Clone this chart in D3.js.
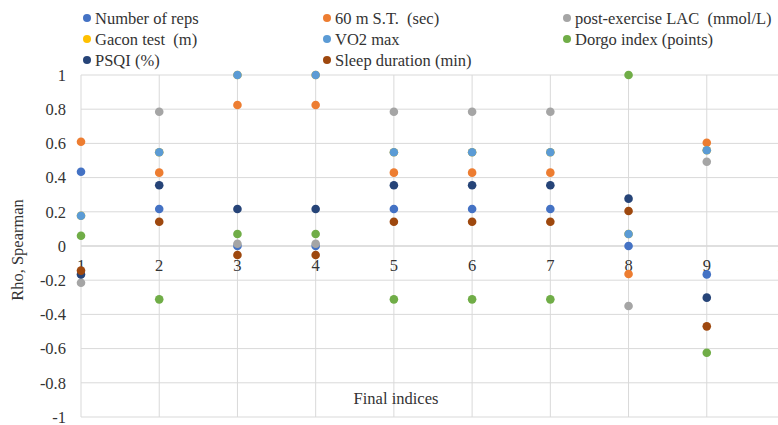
<!DOCTYPE html>
<html><head><meta charset="utf-8">
<script src="https://cdn.jsdelivr.net/npm/d3@7"></script>
<style>
body{margin:0;background:#fff;}
svg text{font-family:"Liberation Serif","Times New Roman","DejaVu Serif",serif;fill:#333;}
</style></head>
<body><svg id="c" width="778" height="425" font-family="Liberation Serif, serif"></svg>
<script>
const categories = [1,2,3,4,5,6,7,8,9];
const seriesNames = ["Number of reps","60 m S.T.  (sec)","post-exercise LAC  (mmol/L)","Gacon test  (m)","VO2 max","Dorgo index (points)","PSQI (%)","Sleep duration (min)"];
const seriesColors = ["#4472C4","#ED7D31","#A5A5A5","#FFC000","#5B9BD5","#70AD47","#264478","#9E480E"];
const repsValues   = [0.434, 0.216, 0.0, 0.0, 0.216, 0.216, 0.216, 0.0, -0.166];
const st60Values   = [0.61, 0.429, 0.825, 0.825, 0.429, 0.429, 0.429, -0.164, 0.604];
const lacValues    = [-0.215, 0.785, 0.013, 0.013, 0.785, 0.785, 0.785, -0.351, 0.493];
const gaconValues  = [0.177, 0.548, 1.0, 1.0, 0.548, 0.548, 0.548, 0.07, 0.56];
const vo2Values    = [0.177, 0.548, 1.0, 1.0, 0.548, 0.548, 0.548, 0.07, 0.56];
const dorgoValues  = [0.06, -0.312, 0.07, 0.07, -0.312, -0.312, -0.312, 1.0, -0.624];
const psqiValues   = [-0.166, 0.355, 0.216, 0.216, 0.355, 0.355, 0.355, 0.277, -0.302];
const sleepValues  = [-0.144, 0.142, -0.053, -0.053, 0.142, 0.142, 0.142, 0.205, -0.47];
const yTicks = [1,0.8,0.6,0.4,0.2,0,-0.2,-0.4,-0.6,-0.8,-1];
const xTickLabels = ["1","2","3","4","5","6","7","8","9","10"];

const allValues = [repsValues, st60Values, lacValues, gaconValues, vo2Values, dorgoValues, psqiValues, sleepValues];
const FONT = "'Liberation Serif', 'Times New Roman', serif";

const svg = d3.select("#c");
const x = d3.scaleLinear().domain([1,10]).range([81,785]);
const y = d3.scaleLinear().domain([-1,1]).range([417,75]);

svg.append("g").selectAll("line").data(yTicks).join("line")
  .attr("x1",x(1)).attr("x2",790)
  .attr("y1",d=>y(d)).attr("y2",d=>y(d))
  .attr("stroke",d=>d===0?"#bfbfbf":"#d9d9d9").attr("stroke-width",1);
svg.append("g").selectAll("line").data(d3.range(1,11)).join("line")
  .attr("x1",d=>x(d)).attr("x2",d=>x(d))
  .attr("y1",y(1)).attr("y2",y(-1))
  .attr("stroke","#d9d9d9").attr("stroke-width",1);

svg.append("g").selectAll("text").data(yTicks).join("text")
  .attr("x",66).attr("y",d=>y(d)).attr("dy","0.35em")
  .attr("text-anchor","end").attr("font-size",16.5).attr("font-family",FONT)
  .text(d=>String(d));

svg.append("g").selectAll("text").data(xTickLabels).join("text")
  .attr("x",(d,i)=>x(i+1)).attr("y",y(0)+25)
  .attr("text-anchor","middle").attr("font-size",16.5).attr("font-family",FONT)
  .text(d=>d);

allValues.forEach((vals,si)=>{
  svg.append("g").selectAll("circle").data(vals).join("circle")
    .attr("cx",(d,i)=>x(categories[i])).attr("cy",d=>y(d))
    .attr("r",4.3).attr("fill",seriesColors[si]);
});

svg.append("text").attr("x",396).attr("y",404).attr("text-anchor","middle").attr("font-size",16.5).attr("font-family",FONT).text("Final indices");
svg.append("text").attr("transform","translate(23,250) rotate(-90)").attr("text-anchor","middle").attr("font-size",16.5).attr("font-family",FONT).text("Rho, Spearman");

const legX = [87,327,567], legY = [18,39,60];
seriesNames.forEach((n,i)=>{
  const col = i%3, row = Math.floor(i/3);
  const g = svg.append("g").attr("transform",`translate(${legX[col]},${legY[row]})`);
  g.append("circle").attr("r",4).attr("fill",seriesColors[i]);
  g.append("text").attr("x",8).attr("dy","0.35em").attr("font-size",16.5).attr("font-family",FONT).style("white-space","pre").text(n);
});
</script></body></html>
